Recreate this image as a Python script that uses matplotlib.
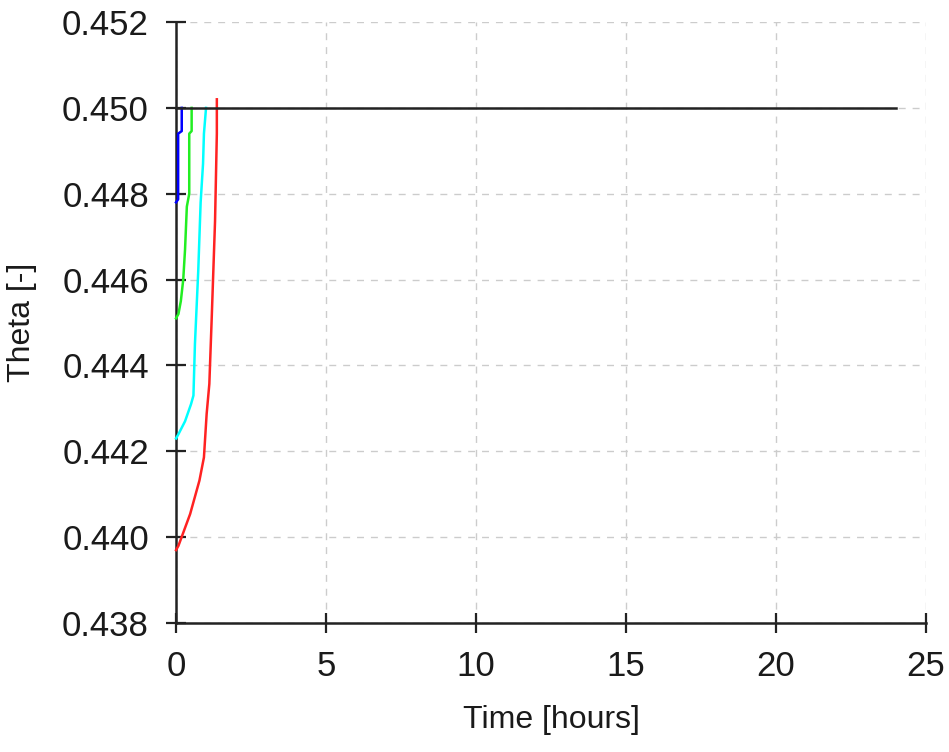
import matplotlib
matplotlib.use("Agg")
import matplotlib.pyplot as plt

plt.rcParams['font.family'] = ['Liberation Sans', 'DejaVu Sans']

# Data (time in hours, theta [-])
ref_time = [0, 24]
ref_theta = [0.450, 0.450]

blue_time = [0.0, 0.07, 0.07, 0.19, 0.19]
blue_theta = [0.4478, 0.44787, 0.4494, 0.44946, 0.4500]

green_time = [0.0, 0.08, 0.16, 0.24, 0.30, 0.36, 0.44, 0.44, 0.52, 0.52]
green_theta = [0.4451, 0.4452, 0.4455, 0.4460, 0.4467, 0.4477, 0.4480, 0.4494, 0.44946, 0.4500]

cyan_time = [0.0, 0.08, 0.30, 0.50, 0.58, 0.63, 0.74, 0.82, 0.90, 0.93, 1.00]
cyan_theta = [0.4423, 0.4424, 0.4427, 0.4431, 0.4433, 0.4445, 0.4462, 0.4478, 0.4487, 0.4494, 0.4500]

red_time = [0.0, 0.08, 0.47, 0.78, 0.93, 1.02, 1.11, 1.19, 1.30, 1.36, 1.36]
red_theta = [0.4397, 0.4398, 0.44054, 0.44132, 0.44186, 0.44287, 0.44357, 0.44512, 0.44736, 0.4494, 0.4502]

xticks = [0, 5, 10, 15, 20, 25]
yticks = [0.438, 0.440, 0.442, 0.444, 0.446, 0.448, 0.450, 0.452]

fig = plt.figure(figsize=(9.49, 7.52), dpi=100)
ax = fig.add_axes([0.1855, 0.1715, 0.9758 - 0.1855, 0.9707 - 0.1715])

ax.plot(blue_time, blue_theta, color='#0000ff', lw=1.8, clip_on=False, zorder=3)
ax.plot(green_time, green_theta, color='#22ee22', lw=1.8, clip_on=False, zorder=3)
ax.plot(cyan_time, cyan_theta, color='#00ffff', lw=1.8, clip_on=False, zorder=3)
ax.plot(red_time, red_theta, color='#ff2222', lw=1.8, clip_on=False, zorder=3)
ax.plot(ref_time, ref_theta, color='#222222', lw=1.8, clip_on=False, zorder=4)

ax.set_xlim(0, 25)
ax.set_ylim(0.438, 0.452)
ax.set_xticks(xticks)
ax.set_yticks(yticks)
ax.set_xticklabels([str(t) for t in xticks])
ax.set_yticklabels([f"{t:.3f}" for t in yticks])

for s in ['top', 'right']:
    ax.spines[s].set_visible(False)
for s in ['left', 'bottom']:
    ax.spines[s].set_linewidth(1.8)
    ax.spines[s].set_color('#222222')

ax.tick_params(direction='inout', length=15, width=1.6, color='#222222',
               labelsize=25, pad=12, labelcolor='#1a1a1a')
ax.grid(True, color='#cccccc', linestyle=(0, (5, 5)), linewidth=1.0)
ax.set_axisbelow(True)

ax.set_xlabel('Time [hours]', fontsize=23, color='#1a1a1a', labelpad=16)
ax.set_ylabel('Theta [-]', fontsize=23, color='#1a1a1a', labelpad=18)

fig.savefig('out.png', dpi=100)
